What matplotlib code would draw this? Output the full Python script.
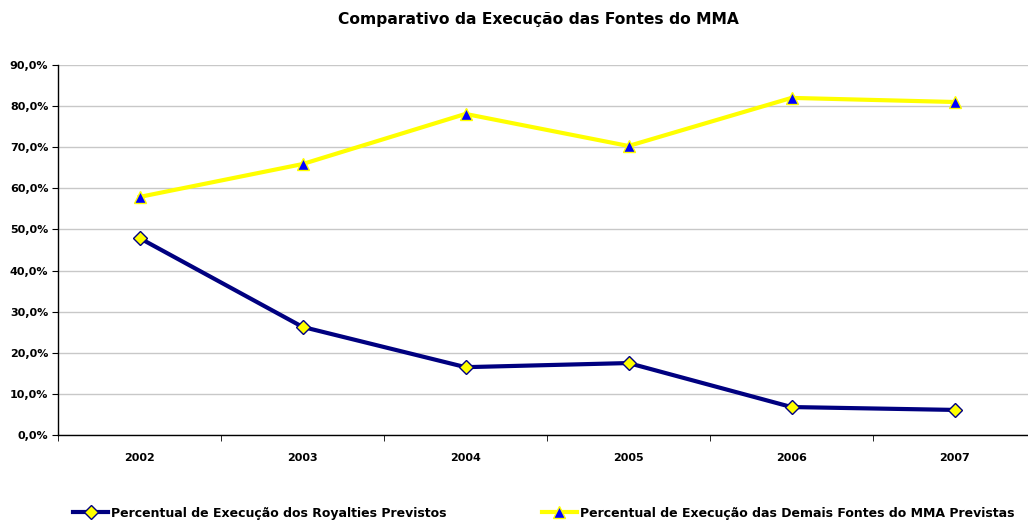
import matplotlib
matplotlib.use('Agg')
import numpy as np
import matplotlib.pyplot as plt
from matplotlib.ticker import FuncFormatter

anos = ['2002', '2003', '2004', '2005', '2006', '2007']
royalties = [0.479, 0.263, 0.165, 0.175, 0.068, 0.061]
demais = [0.579, 0.659, 0.781, 0.703, 0.820, 0.810]

label_roy = "Percentual de Execução dos Royalties Previstos"
label_dem = "Percentual de Execução das Demais Fontes do MMA Previstas"

plt.rcParams['font.family'] = ['DejaVu Sans']
plt.rcParams['font.weight'] = 'bold'

fig = plt.figure(figsize=(10.28, 5.22), dpi=100)
ax = fig.add_axes([58/1028, 87/522, 978/1028, 370/522])

x = np.arange(len(anos))
ax.plot(x, royalties, color='#000080', lw=3, marker='D', ms=7,
        mfc='#ffff00', mec='#000080', mew=1, label=label_roy, zorder=3)
ax.plot(x, demais, color='#ffff00', lw=3, marker='^', ms=9,
        mfc='#0000ff', mec='#ffff00', mew=1, label=label_dem, zorder=3)

ax.set_xlim(-0.5, len(anos) - 0.5)
ax.set_ylim(0, 0.9)
ax.set_yticks(np.arange(0, 0.91, 0.1))
ax.yaxis.set_major_formatter(FuncFormatter(lambda v, p: ('%.1f%%' % (v*100)).replace('.', ',')))
ax.set_xticks(x)
ax.set_xticklabels(anos)
ax.set_xticks(np.arange(-0.5, len(anos)), minor=True)
ax.tick_params(axis='x', which='major', length=0, pad=13, labelsize=8)
ax.tick_params(axis='x', which='minor', length=4, direction='out')
ax.tick_params(axis='y', length=4, direction='out', labelsize=8, pad=3)
ax.grid(axis='y', color='#c8c8c8', lw=1)
ax.set_axisbelow(True)
for s in ['top', 'right']:
    ax.spines[s].set_visible(False)
ax.spines['left'].set_linewidth(1)
ax.spines['bottom'].set_linewidth(1)

fig.text(0.524, 0.962, "Comparativo da Execução das Fontes do MMA",
         ha='center', va='center', fontsize=11.2, fontweight='bold')

fig.legend(loc='center left', bbox_to_anchor=(73/1028, 1 - 513/522), ncol=2,
           frameon=False, fontsize=9, handlelength=2.8, handletextpad=0.25,
           columnspacing=7.6, borderpad=0, borderaxespad=0)

fig.savefig('out.png', dpi=100)
